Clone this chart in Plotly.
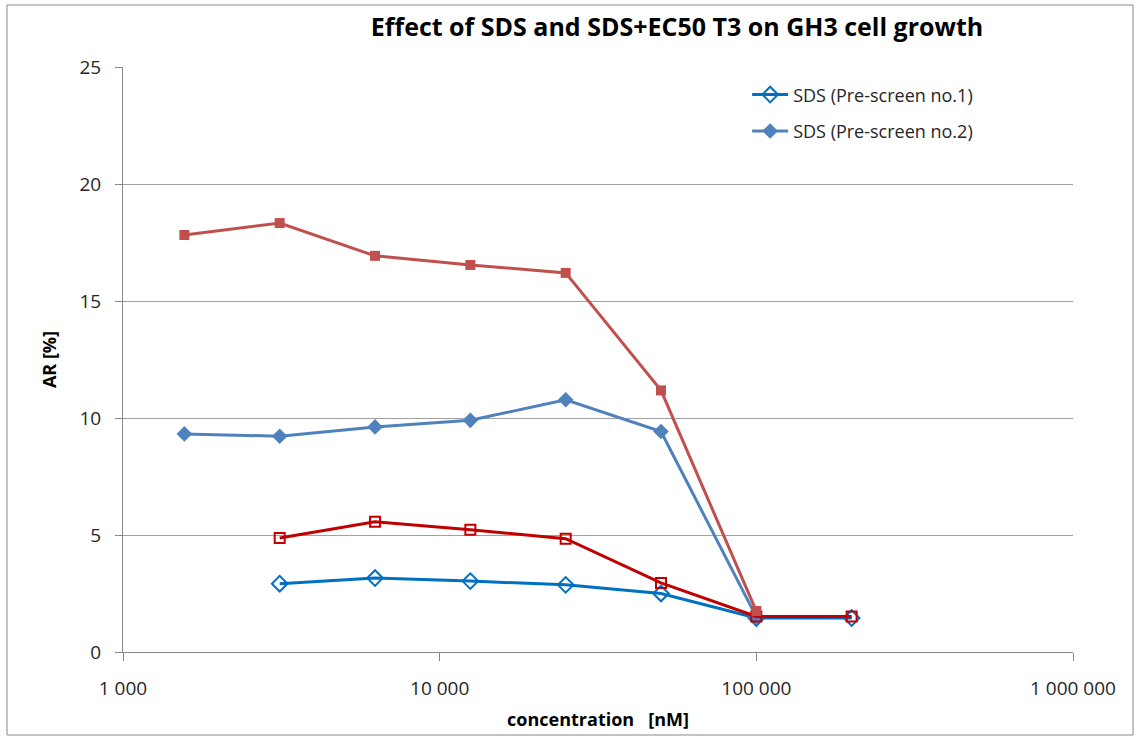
import plotly.graph_objects as go

# Data (concentration in nM)
conc = [1562.5, 3125, 6250, 12500, 25000, 50000, 100000, 200000]

sds_pre1 = [None, 2.92, 3.16, 3.03, 2.87, 2.50, 1.45, 1.45]
sds_pre2 = [9.32, 9.22, 9.62, 9.90, 10.78, 9.42, 1.50, None]
sds_t3_pre2 = [17.82, 18.33, 16.93, 16.54, 16.20, 11.18, 1.75, None]
sds_t3_pre1 = [None, 4.87, 5.57, 5.22, 4.84, 2.95, 1.52, 1.52]

x_tickvals = [1000, 10000, 100000, 1000000]
x_ticktext = ["1 000", "10 000", "100 000", "1 000 000"]
y_tickvals = [0, 5, 10, 15, 20, 25]

FONT = "Open Sans"

fig = go.Figure()

fig.add_trace(go.Scatter(
    x=conc, y=sds_pre1, mode="lines+markers", name="SDS (Pre-screen no.1)",
    legendgroup="a",
    line=dict(color="#0070C0", width=3),
    marker=dict(symbol="diamond-open", size=12, color="#0070C0", line=dict(width=2)),
))
fig.add_trace(go.Scatter(
    x=conc, y=sds_pre2, mode="lines+markers", name="SDS (Pre-screen no.2)",
    legendgroup="b",
    line=dict(color="#4F81BD", width=3),
    marker=dict(symbol="diamond", size=12, color="#4F81BD"),
))
fig.add_trace(go.Scatter(
    x=conc, y=sds_t3_pre1, mode="lines+markers", name="SDS+T3 (Pre-screen no.1)",
    showlegend=False,
    line=dict(color="#C00000", width=3),
    marker=dict(symbol="square-open", size=10, color="#C00000", line=dict(width=2)),
))
fig.add_trace(go.Scatter(
    x=conc, y=sds_t3_pre2, mode="lines+markers", name="SDS+T3 (Pre-screen no.2)",
    showlegend=False,
    line=dict(color="#C0504D", width=3),
    marker=dict(symbol="square", size=10, color="#C0504D"),
))

fig.update_layout(
    width=1140, height=740,
    margin=dict(l=123, r=67, t=67, b=88),
    paper_bgcolor="white", plot_bgcolor="white",
    font=dict(family=FONT, size=18, color="#262626"),
    title=dict(
        text="<b>Effect of SDS and SDS+EC50 T3 on GH3 cell growth</b>",
        x=677 / 1140, xanchor="center", y=1 - 27 / 740, yanchor="middle",
        font=dict(family=FONT, size=25, color="#000000"),
    ),
    legend=dict(
        x=0.657, y=0.984, xanchor="left", yanchor="top",
        bgcolor="rgba(0,0,0,0)", font=dict(size=18, color="#262626"),
        traceorder="grouped", itemwidth=36, tracegroupgap=10,
    ),
    showlegend=True,
)

fig.update_xaxes(
    type="log", range=[3, 6],
    tickvals=x_tickvals, ticktext=x_ticktext,
    showgrid=False, showline=True, linecolor="#888888", linewidth=1,
    ticks="outside", ticklen=8, tickcolor="#888888",
    ticklabelstandoff=11,
    tickfont=dict(size=19, color="#262626"),
    title=dict(text="<b>concentration   [nM]</b>", font=dict(size=18, color="#000000"), standoff=13),
    zeroline=False,
)
fig.update_yaxes(
    range=[0, 25], tickvals=y_tickvals,
    showgrid=True, gridcolor="#A0A0A0", gridwidth=1,
    showline=True, linecolor="#888888", linewidth=1,
    ticks="outside", ticklen=7, tickcolor="#888888",
    ticklabelstandoff=10,
    tickfont=dict(size=19, color="#262626"),
    title=dict(text="<b>AR [%]</b>", font=dict(size=18, color="#000000"), standoff=18),
    zeroline=False,
)

# Chart-area border (as in spreadsheet chart frame)
fig.add_shape(type="rect", xref="paper", yref="paper",
              x0=-116 / 950, x1=(1133 - 123) / 950,
              y0=-(735 - 652) / 585, y1=(652 - 5) / 585,
              line=dict(color="#888888", width=1), layer="below")

fig.write_html("out.html")
